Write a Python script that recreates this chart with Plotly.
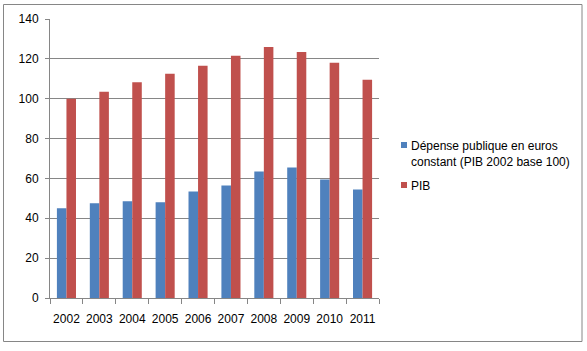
import plotly.graph_objects as go

years = ["2002", "2003", "2004", "2005", "2006", "2007", "2008", "2009", "2010", "2011"]
depense = [45, 47.5, 48.5, 48, 53.5, 56.5, 63.5, 65.5, 59.5, 54.5]
pib = [100, 103.5, 108.3, 112.5, 116.5, 121.5, 126, 123.5, 118, 109.5]
names = ["Dépense publique en euros<br>constant (PIB 2002 base 100)", "PIB"]
colors = ["#4F81BD", "#C0504D"]

W, H = 587, 351
L, R, T, B = 50, 208, 19, 53
pw, ph = W - L - R, H - T - B

font = "Liberation Sans, Arial, sans-serif"
grid = "#868686"

fig = go.Figure()
fig.add_trace(go.Bar(x=years, y=depense, name=names[0], marker_color=colors[0],
                     marker_line_width=0, showlegend=False))
fig.add_trace(go.Bar(x=years, y=pib, name=names[1], marker_color=colors[1],
                     marker_line_width=0, showlegend=False))

def px2paper_x(px):
    return (px - L) / pw

def px2paper_y(py):
    return (H - B - py) / ph

shapes = [dict(type="rect", xref="paper", yref="paper",
               x0=px2paper_x(3.5), x1=px2paper_x(582), y0=px2paper_y(341.5), y1=px2paper_y(4.5),
               line=dict(color=grid, width=1), fillcolor="rgba(0,0,0,0)", layer="above")]
annotations = []
# manual legend
legend_rows = [(145, 162), (185,)]
for (ys, name, col) in zip(legend_rows, names, colors):
    yc = ys[0]
    shapes.append(dict(type="rect", xref="paper", yref="paper",
                       x0=px2paper_x(401), x1=px2paper_x(407),
                       y0=px2paper_y(yc + 3), y1=px2paper_y(yc - 3),
                       line=dict(width=0), fillcolor=col, layer="above"))
    annotations.append(dict(xref="paper", yref="paper", x=px2paper_x(409), y=px2paper_y(yc - 8),
                            xanchor="left", yanchor="top", align="left", showarrow=False,
                            text=name, font=dict(size=12, family=font, color="black")))

fig.update_layout(
    width=W, height=H,
    margin=dict(l=L, r=R, t=T, b=B, pad=0),
    paper_bgcolor="white", plot_bgcolor="white",
    barmode="group", bargap=0.42, bargroupgap=0,
    font=dict(family=font, size=12, color="black"),
    showlegend=False,
    xaxis=dict(type="category", showline=True, linecolor=grid, linewidth=1,
               ticks="outside", tickson="boundaries", ticklen=5, tickcolor=grid,
               showgrid=False, tickfont=dict(size=12), tickangle=0, ticklabelstandoff=10),
    yaxis=dict(range=[0, 140], dtick=20, showline=True, linecolor=grid, linewidth=1,
               ticks="outside", ticklen=4, tickcolor=grid, showgrid=True,
               gridcolor=grid, gridwidth=1, zeroline=False, tickfont=dict(size=12),
               ticklabelstandoff=4),
    shapes=shapes,
    annotations=annotations,
)

fig.write_html("out.html")
